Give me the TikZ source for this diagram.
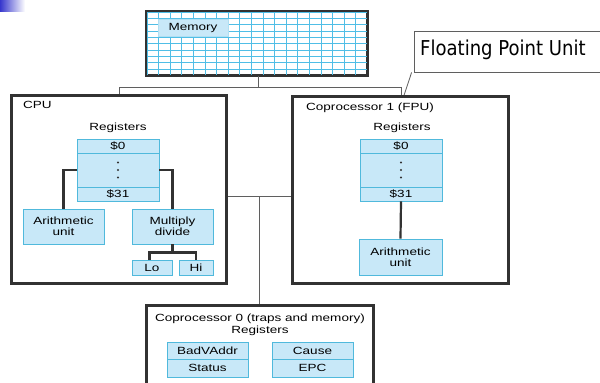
\documentclass[tikz,border=0pt]{standalone}
\usepackage{fontspec}
\setmainfont[FakeStretch=1.3]{Liberation Sans}
\newfontfamily\fpfont[FakeStretch=0.88]{DejaVu Sans}
\usetikzlibrary{calc}
\definecolor{lblue}{RGB}{200,232,248}
\definecolor{cyanb}{RGB}{80,185,220}
\definecolor{gridc}{RGB}{80,190,230}
\definecolor{darkl}{RGB}{50,50,50}
\definecolor{busl}{RGB}{95,95,95}
\definecolor{cornerb}{RGB}{55,55,205}
\begin{document}
\begin{tikzpicture}[x=1pt,y=-1pt,
  every node/.style={font=\fontsize{10.4}{11}\selectfont, text=black, inner sep=0pt},
  bbox/.style={draw=cyanb, fill=lblue, line width=0.9pt, align=center},
  bigbox/.style={draw=darkl, line width=1.8pt, fill=white},
  conn/.style={draw=darkl, line width=2.2pt},
  bus/.style={draw=busl, line width=1pt}]
\useasboundingbox (0,0) rectangle (600,383);
\fill[white] (0,0) rectangle (600,383);
\shade[left color=cornerb, right color=white] (0,0) rectangle (25,11);

% boxes
\node[bigbox, minimum width=220, minimum height=63] (mem) at (257,43.5) {};
\node[bigbox, minimum width=214, minimum height=187] (cpu) at (119,189.5) {};
\node[bigbox, minimum width=215, minimum height=186] (fpu) at (400.5,190) {};
\node[bigbox, minimum width=226, minimum height=100] (cp0) at (260,356) {};
\node[draw=busl, line width=0.8pt, fill=white, minimum width=188, minimum height=41] (fpl) at (508,51.5) {};
\node[anchor=west, font=\fpfont\fontsize{20.5}{22}\selectfont] (fpltext) at (420,50) {Floating Point Unit};

% memory grid
\begin{scope}
\clip (mem.north west) rectangle (mem.south east);
\foreach \k in {0,...,19} \draw[gridc, line width=1pt] (147+11.6*\k,12) -- (147+11.6*\k,75);
\foreach \k in {0,...,10} \draw[gridc, line width=1pt] (147,12.3+6.3*\k) -- (367,12.3+6.3*\k);
\end{scope}
\draw[darkl, line width=1.8pt] (mem.north west) rectangle (mem.south east);
\node[fill=lblue, draw=lblue!80!cyanb, line width=0.5pt, minimum width=70, minimum height=17] (memlbl) at (193,28) {Memory};

% top bus
\coordinate (tb) at ($(mem.south)+(1,12)$);
\draw[bus] ($(mem.south)+(1,0)$) -- (tb);
\draw[bus] (cpu.north) |- (tb);
\coordinate (fputop) at (401,97);
\draw[bus] (tb) -| (fputop);
\coordinate (callend) at (403.5,97);
\draw[busl, line width=0.8pt] ($(fpl.south west)+(-2,0)$) -- (callend);

% middle bus
\coordinate (mb) at (259,196);
\draw[bus] (cpu.east |- mb) -- (fpu.west |- mb);
\draw[bus] (mb) -- (cp0.north -| mb);

% redraw borders on top
\draw[darkl, line width=1.8pt] (cpu.north west) rectangle (cpu.south east);
\draw[darkl, line width=1.8pt] (fpu.north west) rectangle (fpu.south east);
\draw[darkl, line width=1.8pt] (cp0.north west) rectangle (cp0.south east);

% CPU
\node[anchor=west] (cpul) at (23,105) {CPU};
\node (cregl) at (118,128) {Registers};
\node[bbox, minimum width=82, minimum height=14] (c0) at (118,146) {\$0};
\node[bbox, minimum width=82, minimum height=34] (cd) at (118,170) {};
\node[bbox, minimum width=82, minimum height=14] (c31) at (118,194) {\$31};
\foreach \d in {-7.5,0,7.5} \fill[darkl] ($(cd.center)+(0,\d)$) circle (1.2);
\node[bbox, minimum width=81, minimum height=35] (car) at (63.5,226.5) {Arithmetic\\unit};
\node[bbox, minimum width=81, minimum height=35] (cmd) at (172.5,226.5) {Multiply\\divide};
\node[bbox, minimum width=40, minimum height=15] (lo) at (152,267.5) {Lo};
\node[bbox, minimum width=34, minimum height=15] (hi) at (196,267.5) {Hi};
\draw[conn] (cd.west) -| (car.north);
\draw[conn] (cd.east) -| (cmd.north);
\coordinate (mdj) at ($(cmd.south)+(0,8)$);
\draw[conn] (cmd.south) -- (mdj);
\draw[conn] ($(lo.north)+(-2.5,0)$) |- (mdj) -| (hi.north);

% FPU
\node[anchor=west] (fpul) at (306,107.5) {Coprocessor 1 (FPU)};
\node (fregl) at (402,128) {Registers};
\node[bbox, minimum width=82, minimum height=14] (f0) at (401,146) {\$0};
\node[bbox, minimum width=82, minimum height=34] (fd) at (401,170) {};
\node[bbox, minimum width=82, minimum height=14] (f31) at (401,194) {\$31};
\foreach \d in {-7.5,0,7.5} \fill[darkl] ($(fd.center)+(0,\d)$) circle (1.2);
\node[bbox, minimum width=83, minimum height=36] (far) at (400.5,257) {Arithmetic\\unit};
\draw[conn] (f31.south) -- (far.north);

% Coprocessor 0
\node (cp0l) at (260,319) {Coprocessor 0 (traps and memory)};
\node (cp0r) at (260,331) {Registers};
\node[bbox, minimum width=81, minimum height=17] (bad) at (207.5,350.5) {BadVAddr};
\node[bbox, minimum width=81, minimum height=18] (stat) at (207.5,368) {Status};
\node[bbox, minimum width=81, minimum height=17] (cause) at (312.5,350.5) {Cause};
\node[bbox, minimum width=81, minimum height=18] (epc) at (312.5,368) {EPC};
\end{tikzpicture}
\end{document}
